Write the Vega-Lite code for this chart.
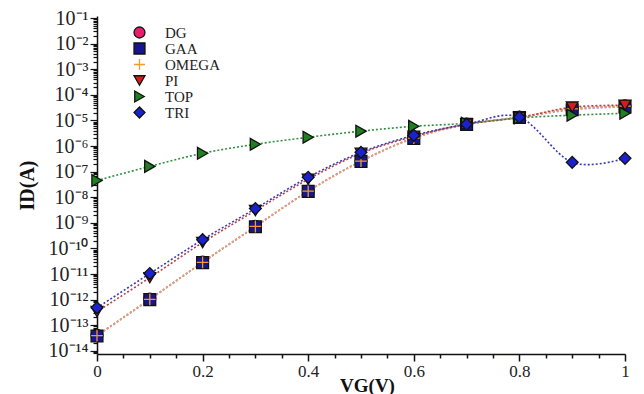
{
  "$schema": "https://vega.github.io/schema/vega-lite/v6.json",
  "autosize": {"type": "none"},
  "padding": {"left": 97, "top": 16, "right": 19, "bottom": 40},
  "width": 528,
  "height": 338,
  "background": "white",
  "config": {
    "view": {"stroke": null},
    "font": "Liberation Serif",
    "legend": {
      "orient": "none", "legendX": 35, "legendY": 9, "title": null,
      "labelFont": "Liberation Serif", "labelFontSize": 15, "labelColor": "#222",
      "symbolSize": 120, "symbolStrokeWidth": 1.3, "rowPadding": -1, "labelOffset": 18, "padding": 0
    }
  },
  "data": {"values": [
    {"s":"DG","x":0,"y":4.0e-14},{"s":"DG","x":0.1,"y":1.05e-12},{"s":"DG","x":0.2,"y":2.9e-11},{"s":"DG","x":0.3,"y":7.3e-10},{"s":"DG","x":0.4,"y":1.75e-8},{"s":"DG","x":0.5,"y":2.6e-7},{"s":"DG","x":0.6,"y":2.1e-6},{"s":"DG","x":0.7,"y":7.2e-6},{"s":"DG","x":0.8,"y":1.35e-5},{"s":"DG","x":0.9,"y":2.9e-5},{"s":"DG","x":1.0,"y":3.7e-5},
    {"s":"GAA","x":0,"y":3.8e-14},{"s":"GAA","x":0.1,"y":1.0e-12},{"s":"GAA","x":0.2,"y":2.8e-11},{"s":"GAA","x":0.3,"y":7.0e-10},{"s":"GAA","x":0.4,"y":1.7e-8},{"s":"GAA","x":0.5,"y":2.5e-7},{"s":"GAA","x":0.6,"y":2.0e-6},{"s":"GAA","x":0.7,"y":7.0e-6},{"s":"GAA","x":0.8,"y":1.3e-5},{"s":"GAA","x":0.9,"y":2.6e-5},{"s":"GAA","x":1.0,"y":3.4e-5},
    {"s":"OMEGA","x":0,"y":3.9e-14},{"s":"OMEGA","x":0.1,"y":1.02e-12},{"s":"OMEGA","x":0.2,"y":2.85e-11},{"s":"OMEGA","x":0.3,"y":7.2e-10},{"s":"OMEGA","x":0.4,"y":1.72e-8},{"s":"OMEGA","x":0.5,"y":2.55e-7},{"s":"OMEGA","x":0.6,"y":2.05e-6},{"s":"OMEGA","x":0.7,"y":7.1e-6},{"s":"OMEGA","x":0.8,"y":1.32e-5},{"s":"OMEGA","x":0.9,"y":2.8e-5},{"s":"OMEGA","x":1.0,"y":3.6e-5},
    {"s":"PI","x":0,"y":3.4e-13},{"s":"PI","x":0.1,"y":7.2e-12},{"s":"PI","x":0.2,"y":1.7e-10},{"s":"PI","x":0.3,"y":3.0e-9},{"s":"PI","x":0.4,"y":5.0e-8},{"s":"PI","x":0.5,"y":5.2e-7},{"s":"PI","x":0.6,"y":2.4e-6},{"s":"PI","x":0.7,"y":7.1e-6},{"s":"PI","x":0.8,"y":1.3e-5},{"s":"PI","x":0.9,"y":3.3e-5},{"s":"PI","x":1.0,"y":3.9e-5},
    {"s":"TOP","x":0,"y":4.5e-8},{"s":"TOP","x":0.1,"y":1.6e-7},{"s":"TOP","x":0.2,"y":5.2e-7},{"s":"TOP","x":0.3,"y":1.17e-6},{"s":"TOP","x":0.4,"y":2.2e-6},{"s":"TOP","x":0.5,"y":3.8e-6},{"s":"TOP","x":0.6,"y":5.9e-6},{"s":"TOP","x":0.7,"y":7.7e-6},{"s":"TOP","x":0.8,"y":1.25e-5},{"s":"TOP","x":0.9,"y":1.6e-5},{"s":"TOP","x":1.0,"y":1.9e-5},
    {"s":"TRI","x":0,"y":4.8e-13},{"s":"TRI","x":0.1,"y":1.04e-11},{"s":"TRI","x":0.2,"y":2.2e-10},{"s":"TRI","x":0.3,"y":3.6e-9},{"s":"TRI","x":0.4,"y":6.0e-8},{"s":"TRI","x":0.5,"y":5.7e-7},{"s":"TRI","x":0.6,"y":2.6e-6},{"s":"TRI","x":0.7,"y":7.1e-6},{"s":"TRI","x":0.8,"y":1.33e-5},{"s":"TRI","x":0.9,"y":2.3e-7},{"s":"TRI","x":1.0,"y":3.3e-7}
  ]},
  "encoding": {
    "x": {
      "field": "x", "type": "quantitative",
      "scale": {"domain": [0, 1], "nice": false, "zero": false},
      "axis": {
        "title": "VG(V)",
        "titleFont": "Liberation Serif", "titleFontSize": 19, "titleFontWeight": "bold", "titleColor": "#111",
        "titleBaseline": "alphabetic", "titleY": 37, "titleX": 270,
        "values": [0,0.05,0.1,0.15,0.2,0.25,0.3,0.35,0.4,0.45,0.5,0.55,0.6,0.65,0.7,0.75,0.8,0.85,0.9,0.95,1],
        "labelExpr": "abs(datum.value*5 - round(datum.value*5)) < 0.001 ? toString(round(datum.value*10)/10) : ''",
        "labelFont": "Liberation Serif", "labelFontSize": 17, "labelColor": "#222", "labelPadding": 2,
        "tickSize": {"condition": {"test": "abs(datum.value*5 - round(datum.value*5)) < 0.001", "value": 7}, "value": 4},
        "tickColor": "#111", "tickWidth": 1.5,
        "domainColor": "#111", "domainWidth": 1.5,
        "grid": false, "labelFlush": false, "labelOverlap": false
      }
    },
    "y": {
      "field": "y", "type": "quantitative",
      "scale": {"type": "log", "domain": [7.5e-15, 0.12], "nice": false},
      "axis": {
        "title": "ID(A)",
        "titleFont": "Liberation Serif", "titleFontSize": 20, "titleFontWeight": "bold", "titleColor": "#111",
        "titlePadding": 11,
        "values": [8e-15,9e-15,1e-14,2e-14,3e-14,4e-14,5e-14,6e-14,7e-14,8e-14,9e-14,1e-13,2e-13,3e-13,4e-13,5e-13,6e-13,7e-13,8e-13,9e-13,1e-12,2e-12,3e-12,4e-12,5e-12,6e-12,7e-12,8e-12,9e-12,1e-11,2e-11,3e-11,4e-11,5e-11,6e-11,7e-11,8e-11,9e-11,1e-10,2e-10,3e-10,4e-10,5e-10,6e-10,7e-10,8e-10,9e-10,1e-9,2e-9,3e-9,4e-9,5e-9,6e-9,7e-9,8e-9,9e-9,1e-8,2e-8,3e-8,4e-8,5e-8,6e-8,7e-8,8e-8,9e-8,1e-7,2e-7,3e-7,4e-7,5e-7,6e-7,7e-7,8e-7,9e-7,1e-6,2e-6,3e-6,4e-6,5e-6,6e-6,7e-6,8e-6,9e-6,1e-5,2e-5,3e-5,4e-5,5e-5,6e-5,7e-5,8e-5,9e-5,1e-4,2e-4,3e-4,4e-4,5e-4,6e-4,7e-4,8e-4,9e-4,1e-3,2e-3,3e-3,4e-3,5e-3,6e-3,7e-3,8e-3,9e-3,1e-2,2e-2,3e-2,4e-2,5e-2,6e-2,7e-2,8e-2,9e-2,1e-1],
        "labelExpr": "abs(log(datum.value)/LN10 - round(log(datum.value)/LN10)) < 0.001 ? ['','10⁻¹','10⁻²','10⁻³','10⁻⁴','10⁻⁵','10⁻⁶','10⁻⁷','10⁻⁸','10⁻⁹','10⁻¹⁰','10⁻¹¹','10⁻¹²','10⁻¹³','10⁻¹⁴'][-round(log(datum.value)/LN10)] : ''",
        "labelFont": "Liberation Serif", "labelFontSize": 20, "labelColor": "#222", "labelPadding": 2,
        "tickSize": {"condition": {"test": "abs(log(datum.value)/LN10 - round(log(datum.value)/LN10)) < 0.001", "value": 7}, "value": 4},
        "tickColor": "#111", "tickWidth": 1.2,
        "domainColor": "#111", "domainWidth": 1.5,
        "grid": false, "labelOverlap": false, "labelFlush": false
      }
    }
  },
  "layer": [
    {"transform": [{"filter": "datum.s === 'DG'"}], "mark": {"type": "line", "interpolate": "cardinal", "strokeDash": [2, 2], "strokeWidth": 1.6, "color": "#e46a86"}, "encoding": {}},
    {"transform": [{"filter": "datum.s === 'GAA'"}], "mark": {"type": "line", "interpolate": "cardinal", "strokeDash": [2, 2], "strokeWidth": 1.6, "color": "#8d9ccc"}, "encoding": {}},
    {"transform": [{"filter": "datum.s === 'OMEGA'"}], "mark": {"type": "line", "interpolate": "cardinal", "strokeDash": [2, 2], "strokeWidth": 1.6, "color": "#f0a064"}, "encoding": {}},
    {"transform": [{"filter": "datum.s === 'PI'"}], "mark": {"type": "line", "interpolate": "cardinal", "strokeDash": [2, 2], "strokeWidth": 1.6, "color": "#b84040"}, "encoding": {}},
    {"transform": [{"filter": "datum.s === 'TOP'"}], "mark": {"type": "line", "interpolate": "cardinal", "strokeDash": [2, 2], "strokeWidth": 1.6, "color": "#2e9040"}, "encoding": {}},
    {"transform": [{"filter": "datum.s === 'TRI'"}], "mark": {"type": "line", "interpolate": "cardinal", "strokeDash": [2, 2], "strokeWidth": 1.6, "color": "#3838b8"}, "encoding": {}},
    {
      "mark": {"type": "point", "filled": true, "size": 140, "strokeWidth": 1.3, "opacity": 1},
      "encoding": {
        "fill": {
          "field": "s", "type": "nominal",
          "scale": {"domain": ["DG","GAA","OMEGA","PI","TOP","TRI"], "range": ["#ea1c6e","#161690","#f39a2a","#d41c1c","#1f801f","#1a22d0"]}
        },
        "stroke": {
          "field": "s", "type": "nominal",
          "scale": {"domain": ["DG","GAA","OMEGA","PI","TOP","TRI"], "range": ["#111","#111","#f39a2a","#111","#111","#111"]}
        },
        "shape": {
          "field": "s", "type": "nominal",
          "scale": {"domain": ["DG","GAA","OMEGA","PI","TOP","TRI"], "range": ["circle","square","M-1,0H1M0,-1V1","triangle-down","triangle-right","diamond"]}
        }
      }
    }
  ]
}
